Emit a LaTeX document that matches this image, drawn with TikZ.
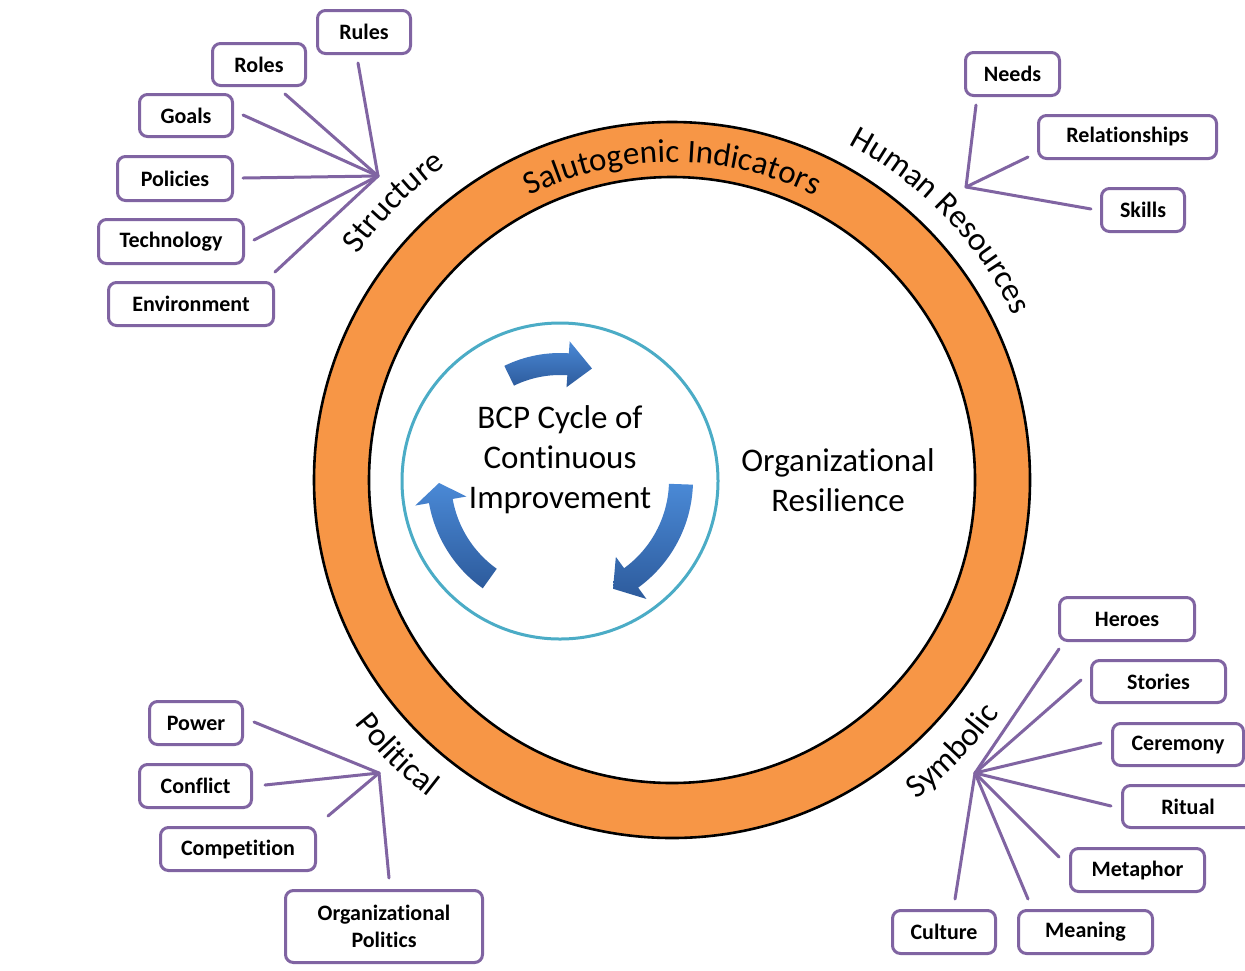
\documentclass[tikz,border=0pt]{standalone}
\usepackage{fontspec}
\setmainfont{Carlito}[Ligatures=NoCommon]
\usetikzlibrary{decorations.text}
\definecolor{ringorange}{HTML}{F79646}
\definecolor{boxpurple}{HTML}{8064A2}
\definecolor{cycleteal}{HTML}{4BACC6}
\definecolor{arrowlight}{HTML}{4A89D6}
\definecolor{arrowdark}{HTML}{2D5B9C}
\tikzset{
  box/.style={draw=boxpurple, line width=1.5pt, rounded corners=4pt, fill=white,
    font=\fontsize{11pt}{13.4pt}\selectfont\bfseries, align=center, inner sep=0pt},
  bx/.style 2 args={box, minimum width=#1pt, minimum height=#2pt},
  link/.style={draw=boxpurple, line width=1.5pt, line cap=round},
  bigtext/.style={font=\fontsize{16.5pt}{20pt}\selectfont, align=center, inner sep=0pt},
  arcword/.style={decorate, decoration={text along path, text align=center,
    text={|\fontsize{16.5pt}{20pt}\selectfont|#1}}},
  arrowshade/.style={top color=arrowlight, bottom color=arrowdark, draw=none}
}
\begin{document}
\begin{tikzpicture}[x=0.5pt,y=-0.5pt]
\path[use as bounding box, fill=white] (0,0) rectangle (1245,970);

% rings
\node[circle, draw=black, line width=1.3pt, fill=ringorange, minimum size=358pt, inner sep=0pt] (outer) at (672,480) {};
\node[circle, draw=black, line width=1.3pt, fill=white, minimum size=303pt, inner sep=0pt] (inner) at (672,480) {};
\node[circle, draw=cycleteal, line width=1.5pt, fill=white, minimum size=158pt, inner sep=0pt] (cycle) at (560,481) {};

% cycle arrows
\begin{scope}[shift={(560,480)}]
\path[arrowshade] (-116:127) arc[start angle=-116, end angle=-86, radius=127] -- (-86:139) -- (-74:116) -- (-86:93) -- (-86:105) arc[start angle=-86, end angle=-116, radius=105] -- cycle;
\path[arrowshade] (2:133) arc[start angle=2, end angle=54, radius=133] -- (54:147) -- (64:121) -- (54:95) -- (54:109) arc[start angle=54, end angle=2, radius=109] -- cycle;
\path[arrowshade] (125.5:133) arc[start angle=125.5, end angle=170, radius=133] -- (170:147) -- (178.6:121) -- (170:95) -- (170:109) arc[start angle=170, end angle=125.5, radius=109] -- cycle;
\end{scope}

\node[bigtext] (bcp) at (560,460) {BCP Cycle of\\Continuous\\Improvement};
\node[bigtext] (resil) at (838,480) {Organizational\\Resilience};

% curved labels
\begin{scope}[shift={(672,480)}]
\path[arcword={Salutogenic Indicators}] (-125:318) arc[start angle=-125, end angle=-55, radius=318];
\path[arcword={Structure}] (-165:387) arc[start angle=-165, end angle=-105, radius=387];
\path[arcword={Human Resources}] (-80.5:379) arc[start angle=-80.5, end angle=-7.5, radius=379];
\path[arcword={Political}] (165:400) arc[start angle=165, end angle=105, radius=400];
\path[arcword={Symbolic}] (74:402) arc[start angle=74, end angle=14, radius=402];
\end{scope}

% Structure group
\node[bx={46.5}{21.5}] (rules) at (364,32) {Rules};
\node[bx={46.5}{21}] (roles) at (259,64.5) {Roles};
\node[bx={46.5}{21}] (goals) at (186,115.5) {Goals};
\node[bx={57.5}{22}] (policies) at (175,178.5) {Policies};
\node[bx={72.5}{22}] (technology) at (171,241.5) {Technology};
\node[bx={82.5}{21.5}] (environment) at (191,304) {Environment};
\coordinate (hubS) at (378,176);
\coordinate (eRules) at (358,63);
\coordinate (eRoles) at (285,94);
\coordinate (eGoals) at (243,115);
\coordinate (ePolicies) at (243,178);
\coordinate (eTechnology) at (254,240);
\coordinate (eEnvironment) at (275,272);
\foreach \e in {eRules,eRoles,eGoals,ePolicies,eTechnology,eEnvironment}
  \draw[link] (hubS) -- (\e);

% Human Resources group
\node[bx={47}{21.5}] (needs) at (1012.5,74) {Needs};
\node[bx={89}{21.5}] (relationships) at (1127.5,137) {Relationships};
\node[bx={41.5}{21.5}] (skills) at (1143,210) {Skills};
\coordinate (hubH) at (966,187);
\coordinate (eNeeds) at (976,105);
\coordinate (eRelationships) at (1028,157);
\coordinate (eSkills) at (1091,209);
\foreach \e in {eNeeds,eRelationships,eSkills}
  \draw[link] (hubH) -- (\e);

% Symbolic group
\node[bx={67.5}{21.5}] (heroes) at (1127,619) {Heroes};
\node[bx={67}{21}] (stories) at (1158.5,681.5) {Stories};
\node[bx={65.5}{21}] (ceremony) at (1178,744.5) {Ceremony};
\node[bx={65.5}{21}] (ritual) at (1188,806.5) {Ritual};
\node[bx={67}{21.5}] (metaphor) at (1137.5,870) {Metaphor};
\node[bx={51.5}{21.5}] (culture) at (944,932) {Culture};
\node[bx={67}{21.5}] (meaning) at (1085.5,932) {Meaning};
\coordinate (hubY) at (975,773);
\coordinate (eHeroes) at (1059,649);
\coordinate (eStories) at (1081,680);
\coordinate (eCeremony) at (1101,743);
\coordinate (eRitual) at (1111,806);
\coordinate (eMetaphor) at (1059,857);
\coordinate (eMeaning) at (1028,899);
\coordinate (eCulture) at (955,899);
\foreach \e in {eHeroes,eStories,eCeremony,eRitual,eMetaphor,eMeaning,eCulture}
  \draw[link] (hubY) -- (\e);

% Political group
\node[bx={46.5}{21.5}] (power) at (196,723) {Power};
\node[bx={56}{21.5}] (conflict) at (195.5,786) {Conflict};
\node[bx={77.5}{21.5}] (competition) at (238,849) {Competition};
\node[bx={98.5}{36}] (orgpol) at (384,926.5) {Organizational\\Politics};
\coordinate (hubP) at (379,773);
\coordinate (ePower) at (254,722);
\coordinate (eConflict) at (265,785);
\coordinate (eCompetition) at (328,816);
\coordinate (eOrgpol) at (389,878);
\foreach \e in {ePower,eConflict,eCompetition,eOrgpol}
  \draw[link] (hubP) -- (\e);
\end{tikzpicture}
\end{document}
